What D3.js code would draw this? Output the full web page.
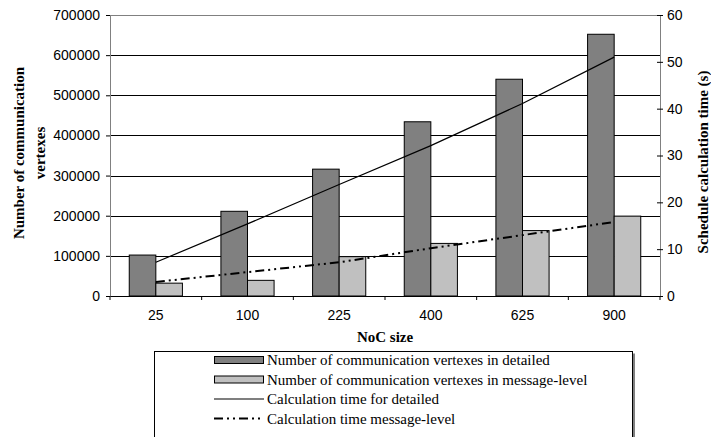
<!DOCTYPE html>
<html>
<head>
<meta charset="utf-8">
<script src="https://cdn.jsdelivr.net/npm/d3@7"></script>
<style>
  html, body { margin: 0; padding: 0; background: #fff; }
  svg { display: block; }
</style>
</head>
<body>
<svg id="chart" width="711" height="437"></svg>
<script>
// ---- data ----
const categories = ["25", "100", "225", "400", "625", "900"];
const verticesDetailed = [102000, 211000, 316000, 434000, 540000, 652000];
const verticesMessage = [32000, 39000, 98000, 131000, 163000, 199000];
const timeDetailed = [7.2, 15.4, 23.8, 32.1, 41.1, 51.0];
const timeMessage = [3.0, 5.1, 7.2, 10.2, 13.0, 15.8];
const leftTicks = [0, 100000, 200000, 300000, 400000, 500000, 600000, 700000];
const rightTicks = [0, 10, 20, 30, 40, 50, 60];
const legendLabels = [
  "Number of communication vertexes in detailed",
  "Number of communication vertexes in message-level",
  "Calculation time for detailed",
  "Calculation time message-level"
];

// ---- layout ----
const svg = d3.select("#chart");
const L = 110, R = 660, T = 15, B = 296;
const sans = "'Liberation Sans', Arial, sans-serif";
const serif = "'Liberation Serif', 'Times New Roman', serif";

const x0 = d3.scaleBand().domain(categories).range([L, R]).paddingInner(0.42).paddingOuter(0.21);
const x1 = d3.scaleBand().domain(["d", "m"]).range([0, x0.bandwidth()]);
const yL = d3.scaleLinear().domain([0, 700000]).range([B, T]);
const yR = d3.scaleLinear().domain([0, 60]).range([B, T]);

svg.append("rect").attr("width", 711).attr("height", 437).attr("fill", "#fff");

// gridlines
svg.append("g").selectAll("line").data(leftTicks.filter(d => d > 0)).join("line")
  .attr("x1", L).attr("x2", R)
  .attr("y1", d => Math.round(yL(d)) + 0.5).attr("y2", d => Math.round(yL(d)) + 0.5)
  .attr("stroke", d => d === 700000 ? "#808080" : "#000").attr("stroke-width", 1);

// bars
const groups = svg.append("g").selectAll("g").data(categories).join("g")
  .attr("transform", d => `translate(${x0(d)},0)`);
groups.append("rect")
  .attr("x", x1("d")).attr("width", x1.bandwidth())
  .attr("y", (d, i) => yL(verticesDetailed[i])).attr("height", (d, i) => B - yL(verticesDetailed[i]))
  .attr("fill", "#808080").attr("stroke", "#000").attr("stroke-width", 1);
groups.append("rect")
  .attr("x", x1("m")).attr("width", x1.bandwidth())
  .attr("y", (d, i) => yL(verticesMessage[i])).attr("height", (d, i) => B - yL(verticesMessage[i]))
  .attr("fill", "#c0c0c0").attr("stroke", "#000").attr("stroke-width", 1);

// axes
const leftAxis = svg.append("g").attr("transform", `translate(${L},0)`)
  .call(d3.axisLeft(yL).tickValues(leftTicks).tickFormat(d3.format("d")).tickSize(4).tickPadding(6));
const rightAxis = svg.append("g").attr("transform", `translate(${R},0)`)
  .call(d3.axisRight(yR).tickValues(rightTicks).tickSize(0).tickPadding(7));
rightAxis.selectAll(".tick").append("line").attr("x1", -3).attr("x2", 3).attr("stroke", "#000");
const bottomAxis = svg.append("g").attr("transform", `translate(0,${B})`)
  .call(d3.axisBottom(x0).tickSize(0).tickPadding(14));
// category boundary ticks
svg.append("g").selectAll("line").data(d3.range(categories.length + 1)).join("line")
  .attr("x1", i => L + i * x0.step()).attr("x2", i => L + i * x0.step())
  .attr("y1", B).attr("y2", B + 4).attr("stroke", "#000");

[leftAxis, rightAxis, bottomAxis].forEach(a => {
  a.selectAll("text").attr("font-family", sans).attr("font-size", 14).attr("fill", "#000");
  a.selectAll(".tick line").attr("stroke", "#000");
});
leftAxis.select(".domain").attr("stroke", "#808080");
rightAxis.select(".domain").attr("stroke", "#808080");
bottomAxis.select(".domain").attr("stroke", "#000");

// lines
const cx = (d) => x0(d) + x0.bandwidth() / 2;
const lineD = d3.line().x((d, i) => cx(categories[i])).y(d => yR(d));
svg.append("path").attr("d", lineD(timeDetailed))
  .attr("fill", "none").attr("stroke", "#000").attr("stroke-width", 1.2);
svg.append("path").attr("d", lineD(timeMessage))
  .attr("fill", "none").attr("stroke", "#000").attr("stroke-width", 2)
  .attr("stroke-dasharray", "9,4,2,4,2,4");

// axis titles
svg.append("text").attr("x", (L + R) / 2).attr("y", 342).attr("text-anchor", "middle")
  .attr("font-family", serif).attr("font-weight", "bold").attr("font-size", 15).text("NoC size");
const lt = svg.append("text").attr("transform", "translate(24,153) rotate(-90)")
  .attr("text-anchor", "middle").attr("font-family", serif).attr("font-weight", "bold").attr("font-size", 15);
lt.append("tspan").attr("x", 0).attr("dy", 0).text("Number of communication");
lt.append("tspan").attr("x", 0).attr("dy", 21).text("vertexes");
svg.append("text").attr("transform", "translate(708,162) rotate(-90)")
  .attr("text-anchor", "middle").attr("font-family", serif).attr("font-weight", "bold").attr("font-size", 15)
  .text("Schedule calculation time (s)");

// legend
const lg = svg.append("g");
lg.append("rect").attr("x", 156).attr("y", 353.5).attr("width", 479).attr("height", 100).attr("fill", "#808080");
lg.append("rect").attr("x", 154.5).attr("y", 351.5).attr("width", 478).attr("height", 100)
  .attr("fill", "#fff").attr("stroke", "#000").attr("stroke-width", 1);
const rowY = d3.scaleLinear().domain([0, 3]).range([360, 418.5]);
legendLabels.forEach((t, i) => {
  const y = rowY(i);
  if (i < 2) {
    lg.append("rect").attr("x", 214.5).attr("y", y - 3.5).attr("width", 49).attr("height", 7)
      .attr("fill", i === 0 ? "#808080" : "#c0c0c0").attr("stroke", "#000").attr("stroke-width", 1);
  } else if (i === 2) {
    lg.append("line").attr("x1", 214).attr("x2", 264).attr("y1", y).attr("y2", y).attr("stroke", "#000").attr("stroke-width", 1.2);
  } else {
    lg.append("line").attr("x1", 214).attr("x2", 264).attr("y1", y).attr("y2", y).attr("stroke", "#000").attr("stroke-width", 2)
      .attr("stroke-dasharray", "9,4,2,4,2,4");
  }
  lg.append("text").attr("x", 267).attr("y", y + 5).attr("font-family", serif).attr("font-size", 15)
    .attr("fill", "#000").text(t);
});
</script>
</body>
</html>
